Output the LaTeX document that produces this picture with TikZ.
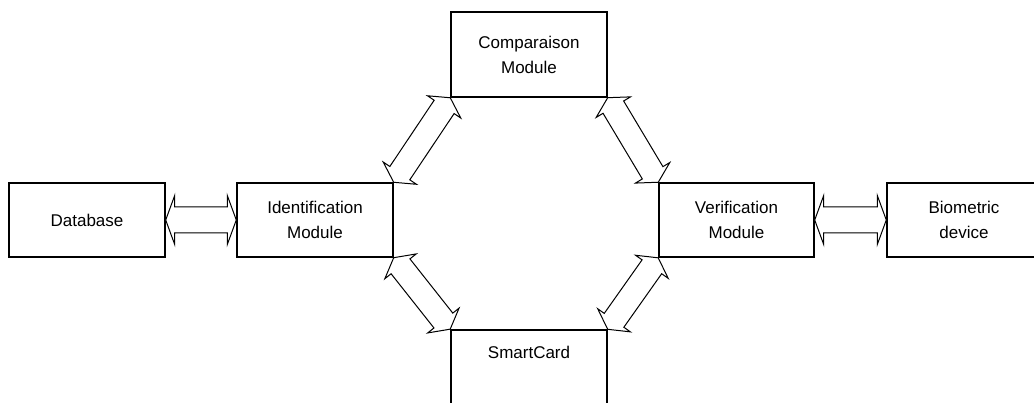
\documentclass[tikz,border=0pt]{standalone}
\usepackage{fontspec}
\setmainfont{Liberation Sans}
\usetikzlibrary{calc}
\makeatletter
\newcommand\blockarrow[5]{% #1 from, #2 to, #3 shaft half-width, #4 head half-width, #5 head length (pt)
  \pgfpointdiff{\pgfpointanchor{#1}{center}}{\pgfpointanchor{#2}{center}}%
  \pgfgetlastxy{\ba@dx}{\ba@dy}%
  \pgfmathveclen{\ba@dx}{\ba@dy}\let\ba@len\pgfmathresult
  \pgfmathatantwo{\ba@dy}{\ba@dx}\let\ba@ang\pgfmathresult
  \pgfmathsetmacro\ba@b{\ba@len-#5}%
  \draw[barrow,shift={(#1)},rotate=\ba@ang]
    (0pt,0pt) -- (#5pt,#4pt) -- (#5pt,#3pt) -- (\ba@b pt,#3pt) -- (\ba@b pt,#4pt)
    -- (\ba@len pt,0pt) -- (\ba@b pt,-#4pt) -- (\ba@b pt,-#3pt) -- (#5pt,-#3pt)
    -- (#5pt,-#4pt) -- cycle;
}
\makeatother
\tikzset{
  box/.style={draw=black, line width=1.4pt, rectangle, inner sep=0pt,
    minimum width=156pt, minimum height=74pt, align=center,
    font=\fontsize{17}{25}\selectfont},
  lbl/.style={inner sep=0pt, align=center, font=\fontsize{17}{25}\selectfont},
  barrow/.style={draw=black, line width=1pt, line join=miter, fill=white}
}
\begin{document}
\begin{tikzpicture}[x=1pt,y=-1pt]
\useasboundingbox (0,0) rectangle (1034,403);
\fill[white] (0,0) rectangle (1034,403);
\clip (0,0) rectangle (1034,403);
% boxes
\node[box] (db) at (87,220) {Database};
\node[box] (ident) at (315,220) {Identification\\Module};
\node[box, minimum height=85pt] (comp) at (529,54.5) {Comparaison\\Module};
\node[box, minimum width=155pt] (verif) at (736.5,220) {Verification\\Module};
\node[box, minimum width=154pt] (bio) at (964,220) {Biometric\\device};
\node[box, minimum height=85pt] (smart) at (529,372.5) {};
\node[lbl] (smartlbl) at (529,352) {SmartCard};
% end points
\coordinate (i-ne) at (ident.north east);
\coordinate (i-se) at (ident.south east);
\coordinate (c-sw) at (comp.south west);
\coordinate (c-se) at (comp.south east);
\coordinate (v-nw) at (verif.north west);
\coordinate (v-sw) at (verif.south west);
\coordinate (s-nw) at (smart.north west);
\coordinate (s-ne) at (smart.north east);
\coordinate (db-e) at (db.east);
\coordinate (i-w) at (ident.west);
\coordinate (v-e) at (verif.east);
\coordinate (b-w) at (bio.west);
% arrows
\blockarrow{db-e}{i-w}{13}{24.5}{9}
\blockarrow{v-e}{b-w}{13}{24.5}{9}
\blockarrow{i-ne}{c-sw}{12}{20}{11}
\blockarrow{c-se}{v-nw}{12}{20}{11}
\blockarrow{i-se}{s-nw}{12}{20}{11}
\blockarrow{s-ne}{v-sw}{12}{20}{11}
\end{tikzpicture}
\end{document}
